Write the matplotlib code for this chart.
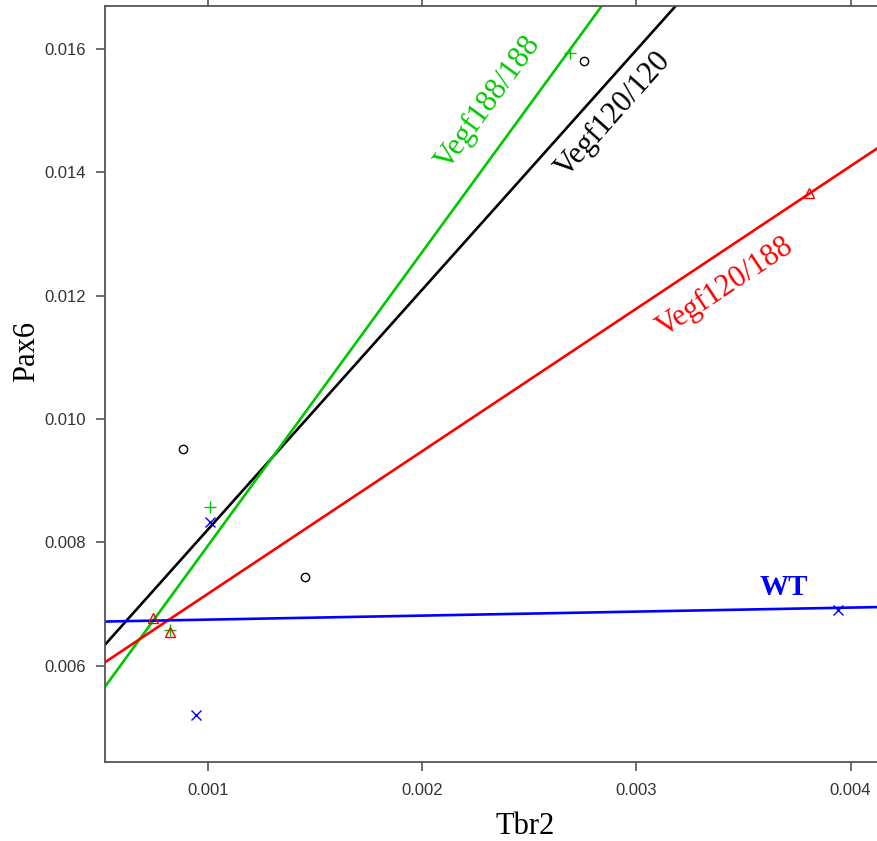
import numpy as np
import matplotlib
matplotlib.use("Agg")
import matplotlib.pyplot as plt

# ---- data (Tbr2 vs Pax6) ----
wt_x = [0.001012, 0.000945, 0.003943]
wt_y = [0.008325, 0.005201, 0.006903]

v120_120_x = [0.000885, 0.001454, 0.002757]
v120_120_y = [0.009514, 0.007443, 0.015805]

v120_188_x = [0.000743, 0.000824, 0.003807]
v120_188_y = [0.006769, 0.006551, 0.013660]

v188_188_x = [0.001011, 0.000824, 0.002691]
v188_188_y = [0.008573, 0.006579, 0.015935]

x_ticks = [0.001, 0.002, 0.003, 0.004]
y_ticks = [0.006, 0.008, 0.010, 0.012, 0.014, 0.016]

W, H = 878, 841
fig = plt.figure(figsize=(W / 100, H / 100), dpi=100)
ax = fig.add_axes([105 / W, (H - 761.7) / H, (W - 105) / W, (761.7 - 5.7) / H])
ax.set_xlim(0.000521, 0.004128)
ax.set_ylim(0.004443, 0.016702)

groups = [
    (v120_120_x, v120_120_y, "black", "o", 6, "Vegf120/120", (0.002891, 0.014930), "normal"),
    (v188_188_x, v188_188_y, "#00C800", "+", 8, "Vegf188/188", (0.002308, 0.015124), "normal"),
    (v120_188_x, v120_188_y, "#FF0000", "^", 7, "Vegf120/188", (0.003414, 0.012141), "normal"),
    (wt_x, wt_y, "#0000FF", "x", 7, "WT", (0.003689, 0.007260), "bold"),
]

serif = ["Liberation Serif", "DejaVu Serif"]

for xs, ys, col, mk, ms, label, pos, weight in groups:
    m, b = np.polyfit(xs, ys, 1)
    ax.plot(xs, ys, linestyle="none", marker=mk, markersize=ms,
            markerfacecolor="none", markeredgecolor=col, markeredgewidth=1.0, zorder=3)
    ax.axline((0, b), slope=m, color=col, lw=1.9, zorder=2)
    if label == "WT":
        ang = 0.0
    else:
        p0 = ax.transData.transform((0.001, b + m * 0.001))
        p1 = ax.transData.transform((0.003, b + m * 0.003))
        ang = np.degrees(np.arctan2(p1[1] - p0[1], p1[0] - p0[0]))
    ax.text(pos[0], pos[1], label, color=col, fontsize=22 if weight == "normal" else 21,
            fontweight=weight, family=serif, rotation=ang, rotation_mode="anchor",
            ha="center", va="center", zorder=4)

spine_col = "#555555"
for s in ["left", "bottom", "top"]:
    ax.spines[s].set_color(spine_col)
    ax.spines[s].set_linewidth(1.3)
ax.spines["right"].set_visible(False)

ax.set_xticks(x_ticks)
ax.set_xticklabels([f"{v:.3f}" for v in x_ticks])
ax.set_yticks(y_ticks)
ax.set_yticklabels([f"{v:.3f}" for v in y_ticks])
ax.tick_params(axis="both", direction="out", length=6.5, width=1.2, color=spine_col,
               labelcolor="#333333", labelsize=12,
               labelfontfamily="Liberation Sans")
ax.tick_params(axis="x", pad=9, top=True, labeltop=False)
ax.tick_params(axis="y", pad=7)

fig.text(525 / W, 1 - 826 / H, "Tbr2", fontsize=22, family=serif,
         ha="center", va="center")
fig.text(27 / W, 1 - 352 / H, "Pax6", fontsize=22, family=serif,
         ha="center", va="center", rotation=90)

fig.savefig("out.png", dpi=100)
